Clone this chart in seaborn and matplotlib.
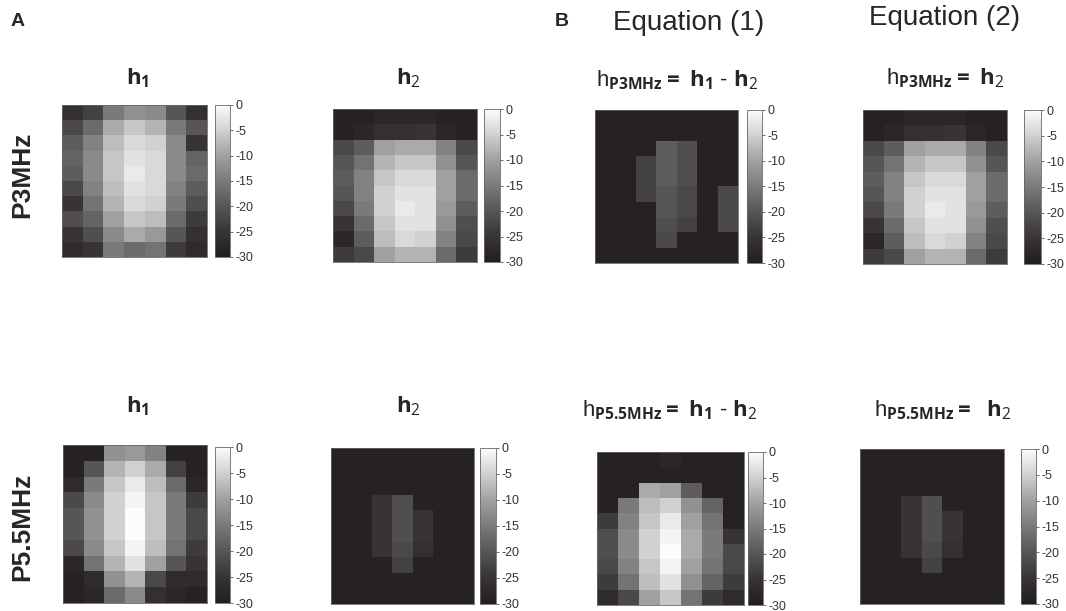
import numpy as np
import matplotlib
matplotlib.use("Agg")
import matplotlib.pyplot as plt
import seaborn as sns
from matplotlib.colors import LinearSegmentedColormap

sns.set_style("white")
plt.rcParams['font.family'] = ['Liberation Sans', 'DejaVu Sans']
plt.rcParams['mathtext.fontset'] = 'custom'
plt.rcParams['mathtext.rm'] = 'Open Sans'
plt.rcParams['mathtext.bf'] = 'Open Sans:bold'
plt.rcParams['mathtext.it'] = 'Open Sans'

# beam maps in dB, 10 rows (top -> bottom) x 7 columns (left -> right)
h1_p3 = np.array([
    [-26, -23, -15, -12, -13, -20, -26],
    [-22, -17, -9, -6, -8, -15, -20],
    [-19, -14, -7, -4, -5, -13, -25],
    [-18, -13, -6, -3, -4, -13, -18],
    [-19, -13, -6, -2, -4, -13, -17],
    [-22, -14, -7, -3, -4, -14, -19],
    [-25, -16, -8, -4, -5, -15, -21],
    [-21, -18, -10, -6, -7, -17, -24],
    [-25, -21, -13, -9, -11, -20, -26],
    [-27, -25, -15, -17, -16, -24, -27],
])

h2_p3 = np.array([
    [-29, -29, -28, -28, -28, -29, -29],
    [-29, -28, -26, -26, -25, -28, -29],
    [-22, -19, -10, -9, -9, -14, -22],
    [-20, -16, -8, -6, -6, -12, -20],
    [-19, -14, -6, -4, -4, -10, -17],
    [-20, -14, -5, -3, -3, -10, -17],
    [-22, -15, -5, -2, -3, -11, -19],
    [-25, -17, -6, -3, -3, -12, -21],
    [-28, -19, -7, -4, -5, -14, -22],
    [-24, -22, -10, -8, -8, -17, -24],
])

eq1_p3 = np.array([
    [-29, -29, -29, -29, -29, -29, -29],
    [-29, -29, -29, -29, -29, -29, -29],
    [-29, -29, -29, -19, -21, -29, -29],
    [-29, -29, -23, -19, -21, -29, -29],
    [-29, -29, -23, -19, -21, -29, -29],
    [-29, -29, -23, -20, -22, -29, -22],
    [-29, -29, -29, -20, -22, -29, -22],
    [-29, -29, -29, -21, -23, -29, -22],
    [-29, -29, -29, -22, -29, -29, -29],
    [-29, -29, -29, -29, -29, -29, -29],
])

eq2_p3 = h2_p3

h1_p55 = np.array([
    [-29, -29, -12, -11, -14, -29, -29],
    [-29, -20, -8, -5, -9, -23, -29],
    [-27, -15, -6, -2, -7, -17, -28],
    [-22, -13, -5, -1, -6, -15, -24],
    [-20, -12, -5, 0, -6, -15, -22],
    [-20, -12, -5, 0, -6, -15, -22],
    [-22, -13, -6, -1, -7, -16, -24],
    [-28, -16, -8, -3, -10, -20, -25],
    [-29, -27, -12, -8, -22, -27, -27],
    [-29, -28, -17, -13, -26, -28, -29],
])

h2_p55 = np.array([
    [-29, -29, -29, -29, -29, -29, -29],
    [-29, -29, -29, -29, -29, -29, -29],
    [-29, -29, -29, -29, -29, -29, -29],
    [-29, -29, -25, -21, -29, -29, -29],
    [-29, -29, -25, -21, -25, -29, -29],
    [-29, -29, -25, -21, -25, -29, -29],
    [-29, -29, -25, -22, -26, -29, -29],
    [-29, -29, -29, -23, -29, -29, -29],
    [-29, -29, -29, -29, -29, -29, -29],
    [-29, -29, -29, -29, -29, -29, -29],
])

eq1_p55 = np.array([
    [-29, -29, -29, -28, -29, -29, -29],
    [-29, -29, -29, -29, -29, -29, -29],
    [-29, -29, -9, -10, -19, -29, -29],
    [-29, -15, -7, -5, -12, -18, -29],
    [-24, -14, -6, -2, -10, -16, -29],
    [-21, -13, -5, -1, -9, -15, -25],
    [-21, -13, -5, 0, -9, -15, -22],
    [-22, -14, -6, -1, -10, -16, -22],
    [-24, -16, -7, -3, -12, -18, -24],
    [-27, -22, -10, -6, -16, -24, -27],
])

eq2_p55 = h2_p55

cbar_ticks = [0, -5, -10, -15, -20, -25, -30]

panels = [h1_p3, h2_p3, eq1_p3, eq2_p3, h1_p55, h2_p55, eq1_p55, eq2_p55]
titles = [r"$\mathbf{h}_\mathbf{1}$", r"$\mathbf{h}_2$",
          r"h$_{\mathbf{P3MHz}}$$\mathbf{=}$ $\mathbf{h}_\mathbf{1}$ - $\mathbf{h}_2$",
          r"h$_{\mathbf{P3MHz}}$$\mathbf{=}$ $\mathbf{h}_2$",
          r"$\mathbf{h}_\mathbf{1}$", r"$\mathbf{h}_2$",
          r"h$_{\mathbf{P5.5MHz}}$$\mathbf{=}$ $\mathbf{h}_\mathbf{1}$ - $\mathbf{h}_2$",
          r"h$_{\mathbf{P5.5MHz}}$$\mathbf{=}$  $\mathbf{h}_2$"]

# pixel boxes (left, top, right, bottom) for map and colorbar
boxes = [
    ((62, 105, 207, 257), (215, 105, 230, 257)),
    ((333, 109, 477, 262), (484, 109, 500, 262)),
    ((595, 110, 738, 263), (747, 110, 762, 263)),
    ((863, 110, 1007, 264), (1024, 110, 1041, 264)),
    ((63, 445, 207, 603), (215, 447, 230, 603)),
    ((331, 448, 474, 604), (480, 448, 496, 604)),
    ((597, 452, 744, 605), (748, 452, 763, 605)),
    ((860, 449, 1004, 604), (1021, 449, 1036, 604)),
]
title_pos = [(138, 78), (408, 78), (677, 80), (945, 78),
             (138, 406), (408, 406), (670, 410), (943, 410)]

W, H = 1066, 611
cmap = LinearSegmentedColormap.from_list(
    "beam", ["#221e1f", "#383435", "#575555", "#7a7a7a", "#a0a0a0", "#d0d0d0", "#fcfcfc"])

fig = plt.figure(figsize=(W / 100, H / 100), dpi=100)


def rect(b):
    l, t, r, btm = b
    return [l / W, 1 - btm / H, (r - l) / W, (btm - t) / H]


for data, title, (mb, cb), (tx, ty) in zip(panels, titles, boxes, title_pos):
    ax = fig.add_axes(rect(mb))
    cax = fig.add_axes(rect(cb))
    sns.heatmap(data, ax=ax, cbar_ax=cax, cmap=cmap, vmin=-30, vmax=0,
                xticklabels=False, yticklabels=False)
    for s in ax.spines.values():
        s.set_visible(True)
        s.set_linewidth(0.6)
        s.set_color("#666666")
    cbar = ax.collections[0].colorbar
    cbar.set_ticks(cbar_ticks)
    cbar.set_ticklabels([str(t) for t in cbar_ticks])
    cax.tick_params(labelsize=9, length=2, width=0.5, pad=2, colors="#333333")
    cbar.outline.set_visible(True)
    cbar.outline.set_linewidth(0.6)
    cbar.outline.set_edgecolor("#666666")
    fig.text(tx / W, 1 - ty / H, title, ha="center", va="center", fontsize=16)

fig.text(18 / W, 1 - 22 / H, "A", fontsize=14, fontweight="bold", ha="center", va="center")
fig.text(562 / W, 1 - 22 / H, "B", fontsize=14, fontweight="bold", ha="center", va="center")
fig.text(689 / W, 1 - 23 / H, "Equation (1)", fontsize=20, ha="center", va="center")
fig.text(945 / W, 1 - 18 / H, "Equation (2)", fontsize=20, ha="center", va="center")
fig.text(22 / W, 1 - 175 / H, "P3MHz", fontsize=19, fontweight="bold", rotation=90,
         ha="center", va="center")
fig.text(22 / W, 1 - 527 / H, "P5.5MHz", fontsize=19, fontweight="bold", rotation=90,
         ha="center", va="center")

fig.savefig("out.png", dpi=100)
